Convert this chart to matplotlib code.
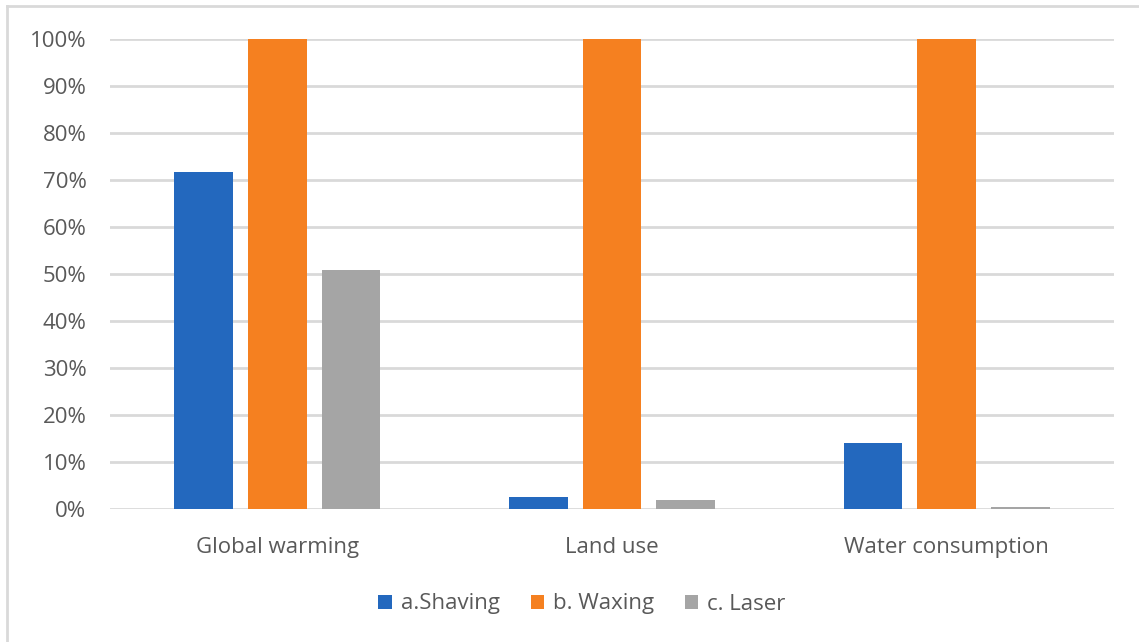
import matplotlib
matplotlib.use("Agg")
import matplotlib.pyplot as plt
from matplotlib.lines import Line2D
from matplotlib.patches import Patch
import numpy as np

categories = ["Global warming", "Land use", "Water consumption"]
series_names = ["a.Shaving", "b. Waxing", "c. Laser"]
shaving = [71.7, 2.6, 14.0]
waxing = [100.0, 100.0, 100.0]
laser = [50.9, 1.9, 0.5]
y_ticks = [0, 10, 20, 30, 40, 50, 60, 70, 80, 90, 100]
y_tick_labels = [f"{v}%" for v in y_ticks]

colors = ["#2368BE", "#F58020", "#A5A5A5"]
text_color = "#595959"
grid_color = "#D9D9D9"

plt.rcParams["font.family"] = ["Open Sans", "DejaVu Sans"]

W, H = 1139, 642
fig = plt.figure(figsize=(W / 100, H / 100), dpi=100)
ax = fig.add_axes([110 / W, 1 - 509 / H, (1114 - 110) / W, (509 - 39) / H])

x = np.arange(len(categories))
bar_w = 0.176
step = 0.22
for i, (vals, name, col) in enumerate(zip([shaving, waxing, laser], series_names, colors)):
    ax.bar(x + (i - 1) * step, vals, width=bar_w, color=col, label=name, zorder=3)

ax.set_xlim(-0.5, 2.5)
ax.set_ylim(0, 100)
ax.set_yticks(y_ticks)
ax.set_yticklabels(y_tick_labels)
ax.set_xticks(x)
ax.set_xticklabels(categories)
ax.grid(axis="y", color=grid_color, linewidth=2, zorder=0)
ax.tick_params(axis="both", length=0, labelsize=16, colors=text_color)
ax.tick_params(axis="y", pad=17)
ax.tick_params(axis="x", pad=20.5)
for s in ax.spines.values():
    s.set_visible(False)

# outer chart border (top and left edges)
fig.add_artist(Line2D([7 / W, 1.0], [1 - 6 / H, 1 - 6 / H], color=grid_color, linewidth=2, transform=fig.transFigure))
fig.add_artist(Line2D([7 / W, 7 / W], [0, 1 - 6 / H], color=grid_color, linewidth=2, transform=fig.transFigure))

handles = [Patch(facecolor=c, label=n) for c, n in zip(colors, series_names)]
fig.legend(handles=handles, loc="center", bbox_to_anchor=(582 / W, 1 - 604 / H), ncol=3,
           frameon=False, fontsize=16, labelcolor=text_color, handlelength=0.6,
           handleheight=0.6, handletextpad=0.4, columnspacing=1.4)

fig.savefig("out.png", dpi=100, facecolor="white")
